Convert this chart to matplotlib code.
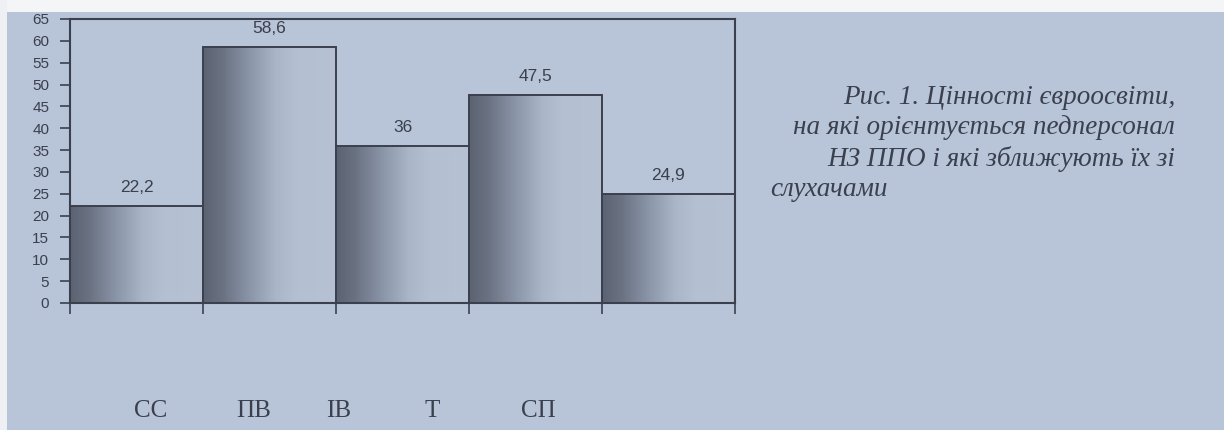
import matplotlib.pyplot as plt
import numpy as np
from matplotlib.colors import LinearSegmentedColormap
from matplotlib.patches import Rectangle

# values of the five groups
values = [22.2, 58.6, 36, 47.5, 24.9]
value_labels = ["22,2", "58,6", "36", "47,5", "24,9"]
categories = ["СС", "ПВ", "ІВ", "Т", "СП"]
cat_x = [151, 254, 339, 432, 538]  # pixel centres of the category captions

caption = ["Рис. 1. Цінності євроосвіти,",
           "на які орієнтується педперсонал",
           "НЗ ППО і які зближують їх зі"]
caption_last = "слухачами"

BG = "#b8c4d8"
INK = "#3a404d"

fig = plt.figure(figsize=(12.24, 4.30), dpi=100, facecolor=BG)
W, H = 1224, 430

# white page margins at the top and the left
fig.patches.append(Rectangle((0, 1 - 12 / H), 1, 12 / H, transform=fig.transFigure,
                             facecolor="#f4f5f7", edgecolor="none", zorder=0))
fig.patches.append(Rectangle((0, 0), 7 / W, 1, transform=fig.transFigure,
                             facecolor="#eef0f3", edgecolor="none", zorder=0))

ax = fig.add_axes([70 / W, 1 - 303 / H, 665 / W, 284 / H])
ax.set_facecolor(BG)

x = np.arange(len(values))
bars = ax.bar(x, values, width=1.0, color="none", edgecolor=INK, linewidth=1.4, zorder=3)

# horizontal shading of each bar: dark on the left, fading out to the right
cmap = LinearSegmentedColormap.from_list(
    "bar", [(0.0, "#5b6271"), (0.15, "#6b7383"), (0.35, "#8a95a8"),
            (0.55, "#aab5c8"), (0.7, "#b4c0d2"), (1.0, "#b6c2d4")])
grad = np.tile(np.linspace(0, 1, 256), (2, 1))
for b in bars:
    x0, w, h = b.get_x(), b.get_width(), b.get_height()
    im = ax.imshow(grad, cmap=cmap, aspect="auto", extent=(x0, x0 + w, 0, h),
                   interpolation="bicubic", zorder=2)
    im.set_clip_path(Rectangle((x0, 0), w, h, transform=ax.transData))

for xi, v, lab in zip(x, values, value_labels):
    ax.annotate(lab, (xi, v), xytext=(0, 8), textcoords="offset points",
                ha="center", va="bottom", fontsize=12.5, color=INK,
                family=["Liberation Sans Narrow", "Liberation Sans"])

ax.set_xlim(-0.5, len(values) - 0.5)
ax.set_ylim(0, 65)
ax.set_yticks(np.arange(0, 66, 5))
ax.set_xticks(np.arange(len(values) + 1) - 0.5)
ax.set_xticklabels([])
for lbl in ax.get_yticklabels():
    lbl.set_family(["Liberation Sans Narrow", "Liberation Sans"])
ax.tick_params(axis="y", direction="out", length=7, width=1.2, color=INK,
               labelsize=11, labelcolor=INK, pad=8)
ax.tick_params(axis="x", direction="out", length=8, width=1.2, color=INK)
for s in ax.spines.values():
    s.set_color(INK)
    s.set_linewidth(1.5)

# category captions printed under the chart
for cx, c in zip(cat_x, categories):
    fig.text(cx / W, 1 - 411 / H, c, ha="center", va="center", fontsize=18,
             family="Liberation Serif", color=INK)

# figure caption on the right
for i, line in enumerate(caption):
    fig.text(1175 / W, 1 - (97 + 31 * i) / H, line, ha="right", va="center",
             fontsize=19.5, family="Liberation Serif", style="italic", color=INK)
fig.text(770 / W, 1 - 189 / H, caption_last, ha="left", va="center",
         fontsize=19.5, family="Liberation Serif", style="italic", color=INK)

fig.savefig("out.png", dpi=100, facecolor=BG)
